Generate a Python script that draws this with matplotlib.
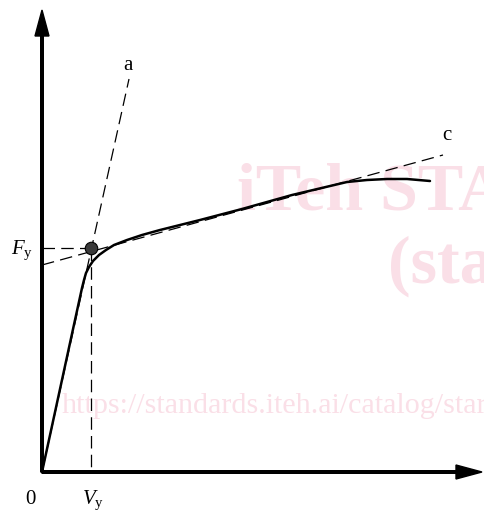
import matplotlib
matplotlib.use("Agg")
import matplotlib.pyplot as plt
import numpy as np

plt.rcParams["mathtext.fontset"] = "custom"
plt.rcParams["mathtext.rm"] = "Liberation Serif"
plt.rcParams["mathtext.it"] = "Liberation Serif:italic"

# force-displacement envelope (screen-unit coordinates, origin at the axes corner)
curve_x = [0, 33, 40, 42, 44, 47, 51, 57, 64, 72, 85, 100, 118, 158, 200, 250, 305, 325, 345, 365, 388]
curve_y = [0, 152, 184, 192, 199, 205, 211, 217, 222, 227, 232, 237, 242, 252, 263, 277, 290, 292, 293, 293, 291]

# yield point
v_y = 49
f_y = 224

# line a: initial stiffness through the origin
a_x = [0, 87]
a_y = [0, 393]

# line c: post-yield stiffness
c_x = [0, 401]
c_y = [207, 317]

x_tip = 440
y_tip = 462

pink = "#FADFE7"

fig = plt.figure(figsize=(4.84, 5.19), dpi=100)
ax = fig.add_axes([0, 0, 1, 1])
ax.set_xlim(-42, 442)
ax.set_ylim(-47, 472)
ax.axis("off")

# background watermark
ax.text(195, 262, "iTeh STA", fontsize=49, fontweight="bold", family="Liberation Serif",
        color=pink, ha="left", va="baseline", zorder=0)
ax.text(346, 189, "(sta", fontsize=49, fontweight="bold", family="Liberation Serif",
        color=pink, ha="left", va="baseline", zorder=0)
ax.text(20, 59, "https://standards.iteh.ai/catalog/star", fontsize=21.6, family="Liberation Serif",
        color=pink, ha="left", va="baseline", zorder=0)

# axes with arrow heads
ax.arrow(0, 0, 0, y_tip, width=2.6, head_width=14, head_length=26,
         length_includes_head=True, color="black", zorder=3)
ax.arrow(0, 0, x_tip, 0, width=2.6, head_width=14, head_length=26,
         length_includes_head=True, color="black", zorder=3)

dash = (0, (10, 5))
ax.plot(a_x, a_y, color="black", lw=0.9, linestyle=dash, zorder=2)
ax.plot(c_x, c_y, color="black", lw=0.9, linestyle=dash, zorder=2)
ax.plot([0, v_y], [f_y, f_y], color="black", lw=0.9, linestyle=dash, zorder=2)
ax.plot([v_y, v_y], [f_y, 0], color="black", lw=0.9, linestyle=dash, zorder=2)

ax.plot(curve_x, curve_y, color="black", lw=1.8, solid_capstyle="round", zorder=4)

ax.plot([v_y], [f_y], "o", ms=9, color="#3a3a3a", mec="black", mew=0.8, zorder=5)

lab = dict(fontsize=15, family="Liberation Serif", color="black")
ax.text(a_x[1] - 1, 407, "a", ha="center", va="center", **lab)
ax.text(c_x[1] + 4, 337, "c", ha="center", va="center", **lab)
ax.text(-20, 222, r"$F_\mathrm{y}$", ha="center", va="center", **lab)
ax.text(-12, -28, "0", ha="center", va="center", **lab)
ax.text(v_y + 2, -28, r"$V_\mathrm{y}$", ha="center", va="center", **lab)

fig.savefig("out.png", dpi=100)
